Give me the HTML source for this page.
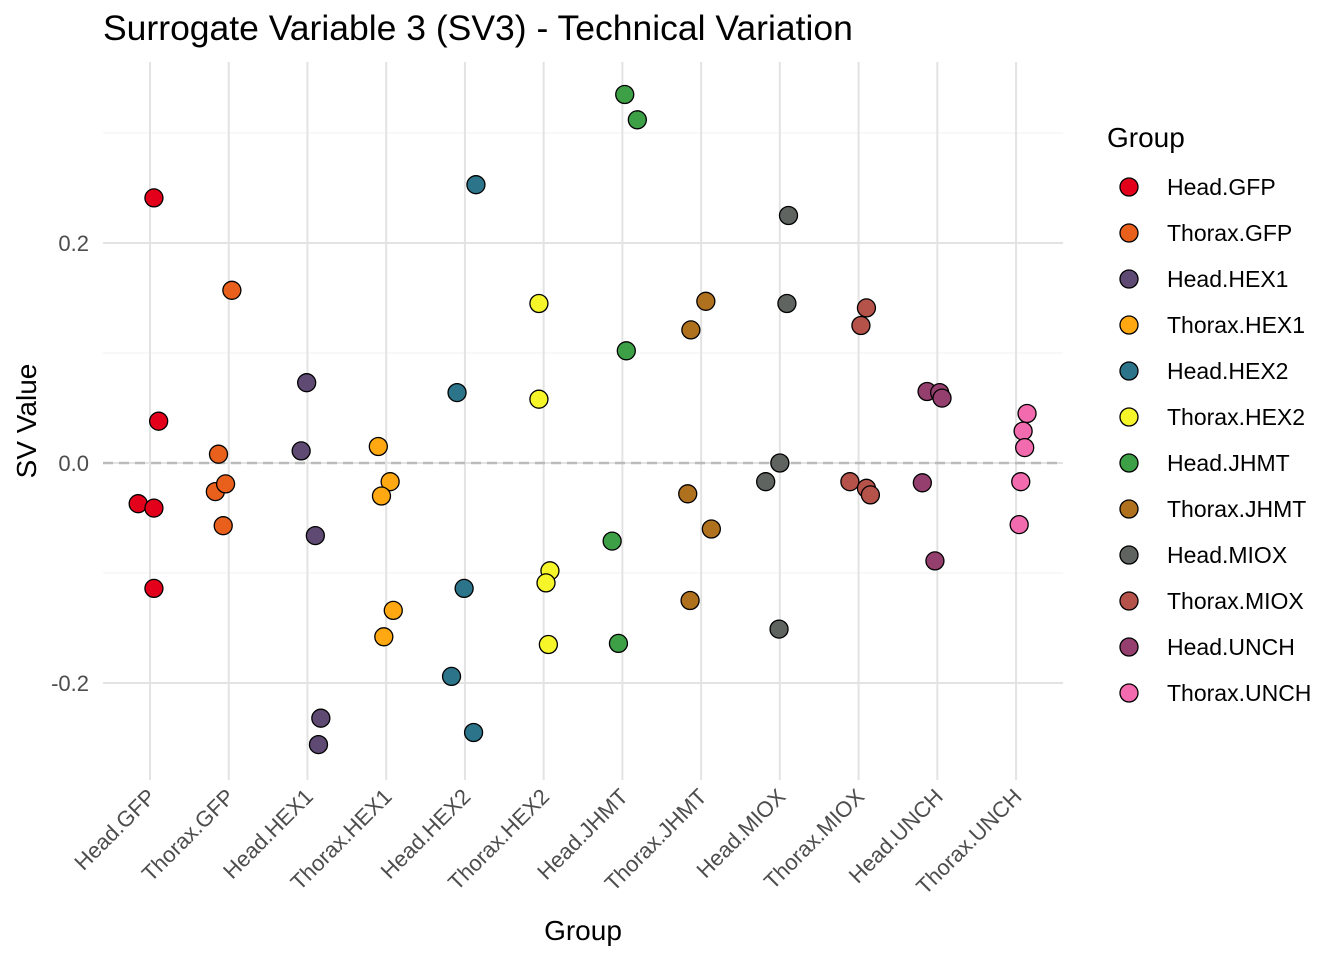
<!DOCTYPE html>
<html><head><meta charset="utf-8"><style>
html,body{margin:0;padding:0;background:#fff;}
svg text{font-family:"Liberation Sans",Arial,sans-serif;}
</style></head><body>
<svg id="chart" width="1344" height="960" xmlns="http://www.w3.org/2000/svg">
<text x="103" y="40" font-size="35.5" fill="#000">Surrogate Variable 3 (SV3) - Technical Variation</text>
<g id="grid"></g>
<g id="axes"></g>
<g id="points"></g>
<g id="legend"></g>
<text x="583" y="940" font-size="28" text-anchor="middle" fill="#000">Group</text>
<text transform="translate(36,421) rotate(-90)" font-size="28" text-anchor="middle" fill="#000">SV Value</text>
</svg>
<script>
const categories=["Head.GFP","Thorax.GFP","Head.HEX1","Thorax.HEX1","Head.HEX2","Thorax.HEX2","Head.JHMT","Thorax.JHMT","Head.MIOX","Thorax.MIOX","Head.UNCH","Thorax.UNCH"];
const colors=["#E3001B","#E8601C","#5E4A72","#FFA812","#2B7489","#F5F52A","#3DA047","#B0711F","#5F6460","#B5524A","#953F6F","#F26BAE"];
const values=[
[0.241,0.038,-0.037,-0.041,-0.114],
[0.157,0.008,-0.026,-0.019,-0.057],
[0.073,0.011,-0.066,-0.232,-0.256],
[0.015,-0.017,-0.030,-0.134,-0.158],
[0.253,0.064,-0.114,-0.194,-0.245],
[0.145,0.058,-0.098,-0.109,-0.165],
[0.335,0.312,0.102,-0.071,-0.164],
[0.147,0.121,-0.028,-0.060,-0.125],
[0.225,0.145,0.0,-0.017,-0.151],
[0.141,0.125,-0.017,-0.023,-0.029],
[0.065,0.064,0.059,-0.018,-0.089],
[0.045,0.029,0.014,-0.017,-0.056]];
const jitter=[
[0.05,0.11,-0.15,0.05,0.05],
[0.04,-0.13,-0.17,-0.04,-0.07],
[-0.01,-0.08,0.10,0.17,0.14],
[-0.10,0.05,-0.06,0.09,-0.03],
[0.14,-0.10,-0.01,-0.17,0.11],
[-0.06,-0.06,0.08,0.03,0.06],
[0.03,0.19,0.05,-0.13,-0.05],
[0.06,-0.13,-0.17,0.13,-0.14],
[0.11,0.09,0,-0.18,-0.01],
[0.10,0.03,-0.11,0.10,0.15],
[-0.13,0.03,0.06,-0.19,-0.03],
[0.14,0.09,0.11,0.06,0.04]];
const yTicks=[-0.2,0.0,0.2];
const yTickLabels=["-0.2","0.0","0.2"];
const yMinor=[-0.1,0.1,0.3];
const NS="http://www.w3.org/2000/svg";
const L=103,R=1063,T=62,B=780;
const step=78.73;
const xs=i=>150+step*i;
const ys=v=>463-v*1100;
function mk(tag,attrs,parent){const e=document.createElementNS(NS,tag);for(const k in attrs)e.setAttribute(k,attrs[k]);parent.appendChild(e);return e;}
const grid=document.getElementById('grid'),axes=document.getElementById('axes'),pts=document.getElementById('points'),leg=document.getElementById('legend');
yMinor.forEach(v=>{const l=mk('line',{x1:L,x2:R,y1:ys(v),y2:ys(v),stroke:'#f0f0f0','stroke-width':1},grid);

});
yTicks.forEach((v,i)=>{const l=mk('line',{x1:L,x2:R,y1:ys(v),y2:ys(v),stroke:'#e3e3e3','stroke-width':2},grid);


const t=mk('text',{x:89,y:ys(v)+8,'font-size':22,'text-anchor':'end',fill:'#4d4d4d'},axes);t.textContent=yTickLabels[i];

});
categories.forEach((c,i)=>{const l=mk('line',{x1:xs(i),x2:xs(i),y1:T,y2:B,stroke:'#e3e3e3','stroke-width':2},grid);


const t=mk('text',{transform:`translate(${xs(i)+7},${B+18}) rotate(-45)`,'font-size':22,'text-anchor':'end',fill:'#4d4d4d'},axes);t.textContent=c;

});
const z=mk('line',{x1:L,x2:R,y1:ys(0),y2:ys(0),stroke:'#bbbbbb','stroke-width':2.5,'stroke-dasharray':'10,6'},grid);


values.forEach((arr,i)=>arr.forEach((v,j)=>{const c=mk('circle',{cx:xs(i)+jitter[i][j]*step,cy:ys(v),r:9,fill:colors[i],stroke:'#000','stroke-width':1.3},pts);

}));
const lt=mk('text',{x:1107,y:147,'font-size':28,fill:'#000'},leg);lt.textContent='Group';


categories.forEach((c,i)=>{const y=187+46*i;
const g=mk('g',{},leg);


mk('circle',{cx:1129,cy:y,r:9,fill:colors[i],stroke:'#000','stroke-width':1.3},g);
const t=mk('text',{x:1167,y:y+8,'font-size':23,fill:'#000'},g);t.textContent=c;});
</script>
</body></html>
